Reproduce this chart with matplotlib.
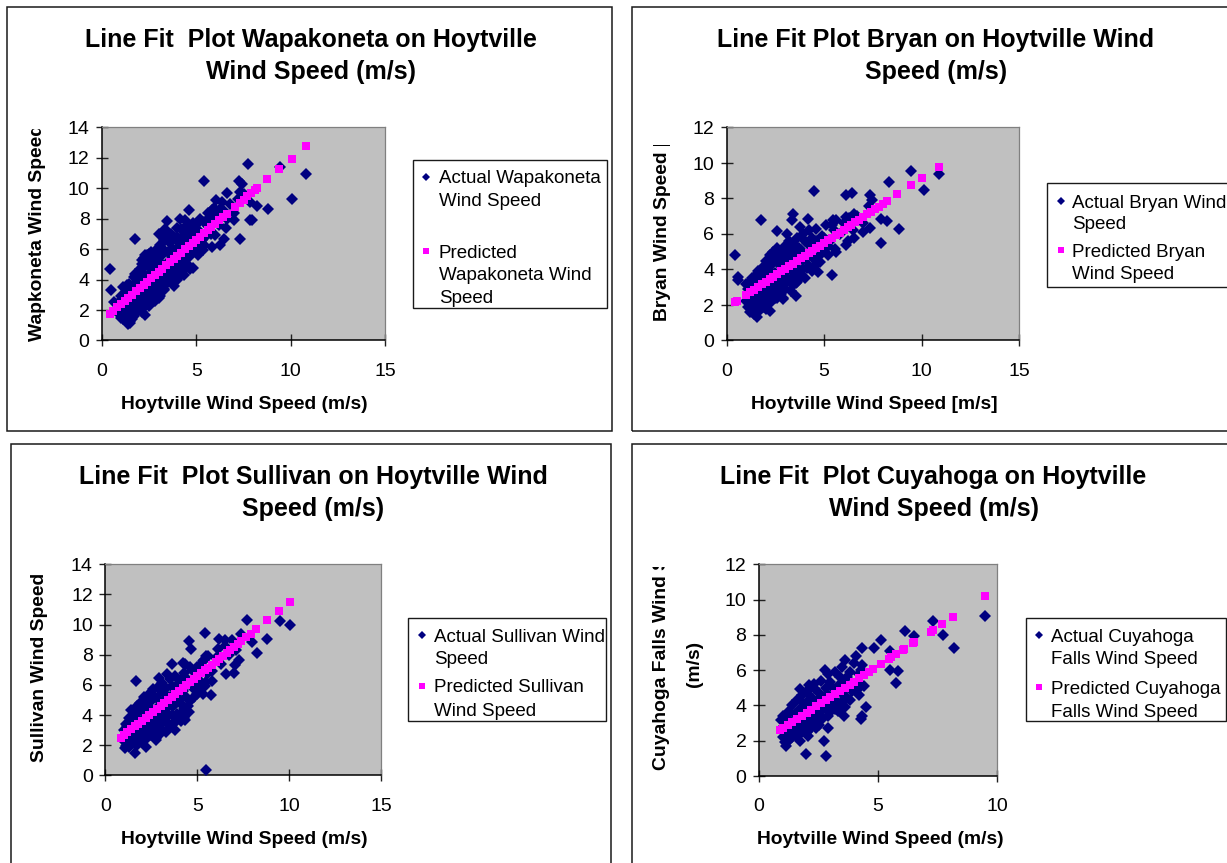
import matplotlib
matplotlib.use('Agg')
import matplotlib.pyplot as plt
from matplotlib.patches import Rectangle
from matplotlib.lines import Line2D
from matplotlib.transforms import Bbox, TransformedBbox

plt.rcParams['font.family'] = ['Liberation Sans', 'DejaVu Sans']

# ---------------- data ----------------
wap_actual = [
    (0.44, 4.72), (0.49, 3.29), (0.65, 2.52), (1.73, 6.69), (2.29, 1.69), (1.50, 1.14),
    (5.42, 10.49), (7.73, 11.59), (7.24, 10.49), (7.41, 10.31), (6.65, 9.70), (7.34, 9.77),
    (9.45, 11.41), (10.09, 9.28), (10.83, 10.97), (6.05, 9.22), (6.38, 9.11), (5.82, 8.56),
    (5.91, 8.73), (6.21, 8.60), (7.87, 9.11), (8.24, 8.82), (8.80, 8.67), (7.85, 7.90),
    (7.97, 7.90), (7.02, 7.94), (6.58, 7.40), (7.29, 6.69), (6.49, 6.69), (6.26, 6.25),
    (5.82, 6.14), (5.33, 5.92), (6.00, 6.91), (4.62, 8.60), (4.14, 8.01), (4.41, 7.90),
    (3.44, 7.83), (3.35, 7.35), (3.67, 6.98), (3.00, 7.02), (4.76, 7.46), (4.94, 7.02),
    (4.81, 4.78), (4.67, 4.67), (4.37, 4.28), (3.35, 6.63), (2.47, 5.71), (2.29, 5.60),
    (2.12, 5.27), (1.99, 4.72), (1.76, 4.39), (1.32, 3.62), (1.41, 3.73), (3.26, 3.29),
    (3.00, 3.07), (3.97, 3.95), (3.70, 4.17), (2.82, 4.17), (4.14, 5.16), (3.88, 4.72),
    (3.17, 4.83),
    (0.8, 1.9), (0.9, 2.5), (0.9, 1.8), (1.0, 2.9), (1.0, 1.5), (1.1, 2.0), (1.1, 3.5),
    (1.2, 1.7), (1.2, 2.4), (1.2, 3.1), (1.3, 1.2), (1.4, 1.1), (1.4, 1.6), (1.4, 2.2),
    (1.5, 3.3), (1.5, 2.0), (1.5, 1.3), (1.6, 2.6), (1.6, 3.6), (1.6, 1.8), (1.7, 2.2),
    (1.7, 4.2), (1.8, 2.8), (1.8, 1.9), (1.8, 3.8), (1.9, 2.4), (1.9, 4.5), (1.9, 3.0),
    (2.0, 2.1), (2.0, 2.7), (2.0, 4.0), (2.1, 5.0), (2.1, 3.2), (2.1, 2.5), (2.2, 2.2),
    (2.2, 4.4), (2.2, 5.4), (2.3, 2.9), (2.3, 3.5), (2.3, 4.9), (2.4, 2.5), (2.4, 3.2),
    (2.4, 5.6), (2.5, 4.3), (2.5, 2.8), (2.5, 5.2), (2.6, 3.3), (2.6, 2.6), (2.6, 4.7),
    (2.7, 3.6), (2.7, 5.0), (2.7, 2.9), (2.8, 3.1), (2.8, 5.5), (2.8, 3.8), (2.9, 4.6),
    (2.9, 3.3), (2.9, 6.0), (3.0, 3.6), (3.0, 5.2), (3.0, 2.8), (3.1, 4.0), (3.1, 6.3),
    (3.1, 3.5), (3.2, 5.6), (3.2, 3.9), (3.3, 4.3), (3.3, 6.6), (3.3, 3.4), (3.4, 5.0),
    (3.4, 7.1), (3.4, 4.0), (3.5, 5.8), (3.5, 4.6), (3.6, 6.4), (3.6, 3.9), (3.7, 4.5),
    (3.7, 5.5), (3.8, 6.8), (3.8, 4.2), (3.9, 6.0), (3.9, 4.9), (4.0, 5.3), (4.0, 7.4),
    (4.0, 4.4), (4.1, 6.5), (4.1, 5.0), (4.2, 5.8), (4.3, 6.9), (4.3, 4.6), (4.4, 5.3),
    (4.4, 6.2), (4.5, 7.6), (4.5, 5.5), (4.6, 6.6), (4.6, 4.9), (4.7, 7.2), (4.8, 5.8),
    (4.9, 6.8), (5.0, 6.0), (5.0, 7.6), (5.1, 6.4), (5.2, 7.1), (5.3, 6.6), (5.4, 7.8),
    (5.5, 6.9), (5.6, 7.5), (5.7, 8.1), (5.8, 7.0), (5.9, 7.9), (6.1, 8.3), (6.2, 7.6),
    (6.4, 8.6), (6.6, 8.0), (6.8, 9.0), (7.0, 8.4), (7.2, 9.3), (7.5, 9.6),
    (1.0, 2.0), (1.1, 1.4), (1.3, 2.5), (1.3, 1.7), (1.5, 2.5), (1.6, 1.4), (1.7, 2.9),
    (1.7, 1.6), (1.8, 3.4), (1.9, 2.0), (2.0, 3.1), (2.1, 4.4), (2.1, 1.9), (2.2, 3.0),
    (2.3, 2.5), (2.4, 4.0), (2.5, 3.6), (2.5, 2.3), (2.6, 5.8), (2.7, 4.3), (2.8, 2.6),
    (2.9, 5.1), (3.0, 4.0), (3.1, 2.9), (3.2, 6.1), (3.3, 4.9), (3.4, 3.7), (3.5, 6.9),
    (3.6, 4.6), (3.7, 6.0), (3.8, 3.6), (3.9, 5.6), (4.0, 6.8), (4.1, 4.2), (4.2, 7.3),
    (4.3, 5.1), (4.4, 7.0), (4.6, 5.5), (4.7, 6.1), (4.8, 7.7), (5.1, 5.6), (5.2, 8.0),
    (5.4, 6.3), (5.6, 8.4),
]
wap_pred = [
    (0.4, 1.75), (0.6, 1.96), (0.8, 2.18), (1.0, 2.39), (1.2, 2.60), (1.4, 2.81),
    (1.6, 3.02), (1.8, 3.23), (2.0, 3.45), (2.2, 3.66), (2.4, 3.87), (2.6, 4.08),
    (2.8, 4.29), (3.0, 4.50), (3.2, 4.72), (3.4, 4.93), (3.6, 5.14), (3.8, 5.35),
    (4.0, 5.56), (4.2, 5.77), (4.4, 5.99), (4.6, 6.20), (4.8, 6.41), (5.0, 6.62),
    (5.2, 6.83), (5.4, 7.04), (5.6, 7.25), (5.8, 7.47), (6.0, 7.68), (6.2, 7.89),
    (6.4, 8.10), (6.6, 8.31), (7.05, 8.79), (7.3, 9.05), (7.5, 9.26), (7.7, 9.48),
    (7.9, 9.69), (8.1, 9.90), (8.24, 10.05), (8.77, 10.61), (9.40, 11.28),
    (10.05, 11.96), (10.83, 12.79),
]

bry_actual = [
    (0.43, 4.80), (0.56, 3.57), (0.60, 3.39), (1.74, 6.81), (2.59, 6.17), (3.38, 7.11),
    (3.33, 6.77), (4.18, 6.83), (3.75, 6.39), (3.07, 6.02), (4.49, 8.41), (6.14, 8.18),
    (6.45, 8.31), (7.34, 8.18), (7.47, 7.94), (8.31, 8.93), (9.47, 9.55), (10.10, 8.46),
    (10.89, 9.40), (5.46, 6.81), (5.63, 6.77), (6.11, 6.96), (6.52, 7.11), (7.94, 6.86),
    (8.23, 6.73), (8.82, 6.30), (7.94, 5.49), (7.00, 6.11), (7.34, 6.36), (6.54, 5.79),
    (6.11, 5.36), (5.55, 5.17), (5.38, 3.67), (4.69, 3.86), (3.58, 2.48), (2.90, 2.31),
    (2.22, 1.69), (1.54, 1.32), (3.07, 3.29), (3.58, 3.24),
    (1.0, 3.2), (1.0, 2.2), (1.1, 1.9), (1.1, 2.9), (1.2, 1.6), (1.2, 2.4), (1.2, 3.3),
    (1.3, 2.0), (1.3, 2.7), (1.4, 1.5), (1.4, 3.6), (1.4, 2.3), (1.5, 1.8), (1.5, 3.0),
    (1.6, 2.1), (1.6, 3.9), (1.6, 2.6), (1.7, 1.7), (1.7, 3.4), (1.8, 2.3), (1.8, 4.1),
    (1.8, 2.9), (1.9, 1.9), (1.9, 3.7), (2.0, 2.5), (2.0, 4.5), (2.0, 3.1), (2.1, 2.1),
    (2.1, 4.0), (2.2, 2.8), (2.2, 4.8), (2.2, 3.5), (2.3, 2.3), (2.3, 4.3), (2.4, 3.0),
    (2.4, 5.0), (2.4, 2.6), (2.5, 3.8), (2.5, 4.6), (2.6, 2.4), (2.6, 3.3), (2.6, 5.2),
    (2.7, 2.9), (2.7, 4.3), (2.8, 3.6), (2.8, 5.0), (2.8, 2.6), (2.9, 4.6), (2.9, 3.1),
    (3.0, 5.3), (3.0, 2.9), (3.0, 3.8), (3.1, 4.4), (3.1, 5.0), (3.2, 3.4), (3.2, 5.6),
    (3.3, 4.0), (3.3, 2.8), (3.4, 4.8), (3.4, 3.6), (3.5, 5.4), (3.5, 4.2), (3.6, 3.3),
    (3.6, 5.8), (3.7, 4.5), (3.7, 3.8), (3.8, 5.1), (3.9, 4.0), (3.9, 6.0), (4.0, 4.6),
    (4.0, 3.5), (4.1, 5.5), (4.2, 4.2), (4.2, 6.2), (4.3, 5.0), (4.4, 3.9), (4.4, 5.8),
    (4.5, 4.6), (4.6, 6.3), (4.7, 5.3), (4.8, 4.4), (4.9, 5.9), (5.0, 5.1), (5.1, 6.5),
    (5.2, 4.8), (5.3, 5.6), (5.5, 6.2), (5.6, 5.0), (5.8, 6.0), (6.0, 6.6), (6.2, 5.6),
    (6.3, 6.9), (6.5, 6.2), (6.7, 7.0), (7.0, 6.6), (7.3, 7.6),
    (1.1, 2.4), (1.2, 2.0), (1.3, 3.5), (1.4, 2.9), (1.5, 2.3), (1.6, 3.4), (1.7, 2.0),
    (1.8, 3.6), (1.9, 2.6), (2.0, 4.0), (2.0, 1.8), (2.1, 3.4), (2.2, 2.1), (2.3, 3.7),
    (2.4, 4.4), (2.5, 2.4), (2.5, 3.2), (2.6, 4.6), (2.7, 3.7), (2.8, 4.2), (2.9, 2.4),
    (3.0, 4.8), (3.1, 3.5), (3.2, 4.5), (3.3, 5.1), (3.4, 3.1), (3.5, 4.9), (3.6, 4.0),
    (3.7, 5.2), (3.8, 3.6), (3.9, 4.6), (4.0, 5.6), (4.1, 4.1), (4.3, 5.4), (4.5, 4.2),
    (4.6, 5.6), (4.8, 4.8), (5.0, 5.8), (5.2, 5.3), (5.4, 6.5),
]
bry_pred = [
    (0.43, 2.16), (0.55, 2.25), (1.0, 2.58), (1.2, 2.73), (1.4, 2.87), (1.6, 3.02),
    (1.8, 3.16), (2.0, 3.31), (2.2, 3.46), (2.4, 3.60), (2.6, 3.75), (2.8, 3.89),
    (3.0, 4.04), (3.2, 4.19), (3.4, 4.33), (3.6, 4.48), (3.8, 4.62), (4.0, 4.77),
    (4.2, 4.92), (4.4, 5.06), (4.6, 5.21), (4.8, 5.35), (5.0, 5.50), (5.2, 5.65),
    (5.4, 5.79), (5.6, 5.94), (5.8, 6.08), (6.0, 6.23), (6.2, 6.38), (6.4, 6.52),
    (6.6, 6.67), (6.8, 6.81), (7.0, 6.96), (7.2, 7.11), (7.4, 7.25), (7.6, 7.40),
    (7.8, 7.54), (8.0, 7.69), (8.25, 7.87), (8.75, 8.24), (9.44, 8.74), (10.03, 9.17),
    (10.87, 9.78),
]

sul_actual = [
    (1.68, 6.26), (5.49, 0.38), (5.43, 9.45), (4.53, 8.92), (4.64, 8.36), (7.72, 10.29),
    (6.16, 9.03), (6.49, 9.00), (7.36, 9.36), (7.97, 8.85), (8.26, 8.12), (8.80, 9.07),
    (9.47, 10.24), (10.05, 10.00), (6.54, 6.75), (6.99, 6.79), (7.03, 7.35), (7.26, 7.68),
    (5.45, 7.90), (5.36, 7.68), (3.62, 7.37), (4.22, 7.46), (4.35, 7.37), (5.76, 5.31),
    (5.80, 6.26), (5.31, 5.42), (5.13, 5.64), (5.49, 6.19), (4.53, 4.20), (4.35, 3.65),
    (4.28, 3.81), (3.80, 3.03), (3.32, 4.49), (1.59, 1.48), (2.19, 1.88), (1.14, 1.92),
    (1.05, 1.81), (2.77, 2.50), (2.77, 2.37), (2.92, 6.46), (3.37, 6.70), (2.90, 5.91),
    (1.0, 3.0), (1.1, 2.3), (1.1, 3.4), (1.2, 2.0), (1.2, 2.7), (1.3, 3.8), (1.3, 2.2),
    (1.4, 2.9), (1.4, 4.3), (1.5, 2.4), (1.5, 3.5), (1.6, 4.0), (1.6, 2.1), (1.7, 3.1),
    (1.7, 4.6), (1.8, 2.6), (1.8, 3.7), (1.9, 4.8), (1.9, 2.3), (2.0, 3.2), (2.0, 4.3),
    (2.1, 2.8), (2.1, 5.2), (2.2, 3.6), (2.2, 2.4), (2.3, 4.6), (2.3, 3.0), (2.4, 5.4),
    (2.4, 3.9), (2.5, 2.7), (2.5, 4.9), (2.6, 3.4), (2.6, 5.7), (2.7, 4.2), (2.7, 3.0),
    (2.8, 5.1), (2.8, 3.7), (2.9, 4.6), (2.9, 2.7), (3.0, 5.6), (3.0, 3.4), (3.1, 4.2),
    (3.1, 6.1), (3.2, 3.8), (3.2, 5.0), (3.3, 2.9), (3.3, 5.8), (3.4, 4.5), (3.4, 3.5),
    (3.5, 6.4), (3.5, 5.2), (3.6, 4.0), (3.7, 5.8), (3.7, 3.4), (3.8, 4.7), (3.8, 6.6),
    (3.9, 5.4), (3.9, 4.1), (4.0, 6.1), (4.1, 4.7), (4.1, 3.6), (4.2, 5.6), (4.3, 6.8),
    (4.3, 4.4), (4.4, 5.2), (4.5, 6.3), (4.6, 4.9), (4.7, 7.0), (4.8, 5.7), (4.9, 6.5),
    (5.0, 7.2), (5.0, 5.4), (5.2, 6.2), (5.3, 7.6), (5.5, 6.7), (5.6, 7.9), (5.8, 6.9),
    (6.0, 7.8), (6.1, 8.4), (6.3, 7.4), (6.5, 8.6), (6.7, 8.0), (6.9, 9.0), (7.1, 8.3),
    (1.0, 2.3), (1.1, 2.8), (1.2, 3.3), (1.3, 1.9), (1.4, 2.5), (1.5, 3.9), (1.6, 2.7),
    (1.7, 2.0), (1.8, 4.2), (1.9, 3.0), (2.0, 2.2), (2.1, 3.8), (2.2, 4.8), (2.3, 2.6),
    (2.4, 3.4), (2.5, 4.3), (2.6, 2.9), (2.7, 5.2), (2.8, 4.0), (2.9, 3.2), (3.0, 6.0),
    (3.1, 3.0), (3.2, 4.4), (3.3, 5.3), (3.4, 4.0), (3.5, 3.2), (3.6, 5.9), (3.7, 4.6),
    (3.8, 5.2), (3.9, 3.7), (4.0, 5.0), (4.1, 6.4), (4.2, 4.2), (4.4, 6.0), (4.5, 4.6),
    (4.6, 7.2), (4.8, 5.2), (5.0, 6.2), (5.2, 7.3), (5.4, 5.9),
]
sul_pred = [
    (0.83, 2.48), (1.0, 2.65), (1.2, 2.84), (1.4, 3.04), (1.6, 3.24), (1.8, 3.43),
    (2.0, 3.63), (2.2, 3.82), (2.4, 4.02), (2.6, 4.22), (2.8, 4.41), (3.0, 4.61),
    (3.2, 4.80), (3.4, 5.00), (3.6, 5.19), (3.8, 5.39), (4.0, 5.59), (4.2, 5.78),
    (4.4, 5.98), (4.6, 6.17), (4.8, 6.37), (5.0, 6.57), (5.2, 6.76), (5.4, 6.96),
    (5.6, 7.15), (5.8, 7.35), (6.0, 7.54), (6.2, 7.74), (6.4, 7.94), (6.6, 8.13),
    (6.8, 8.33), (7.0, 8.52), (7.2, 8.72), (7.4, 8.91), (7.65, 9.16), (7.9, 9.40),
    (8.21, 9.71), (8.80, 10.29), (9.44, 10.91), (10.04, 11.50),
]

cuy_actual = [
    (0.92, 3.16), (1.15, 1.68), (1.97, 1.23), (2.80, 1.13), (2.72, 1.98), (2.06, 2.27),
    (1.71, 1.98), (1.71, 4.95), (2.10, 5.14), (2.31, 5.24), (2.76, 6.03), (3.60, 6.60),
    (4.06, 6.79), (4.33, 7.28), (4.33, 6.28), (4.83, 7.26), (5.14, 7.69), (5.49, 7.09),
    (5.49, 5.99), (5.84, 5.95), (5.77, 5.29), (6.12, 8.22), (6.51, 7.92), (7.32, 8.77),
    (7.73, 8.01), (8.19, 7.28), (9.48, 9.07), (4.51, 3.91), (4.33, 3.38), (4.30, 3.25),
    (3.57, 3.38), (3.18, 4.57), (3.99, 4.95), (4.27, 5.09), (3.07, 3.95), (2.90, 2.74),
    (3.60, 3.90),
    (1.0, 2.2), (1.0, 3.4), (1.1, 1.9), (1.1, 2.8), (1.2, 3.6), (1.2, 2.4), (1.3, 2.1),
    (1.3, 3.1), (1.4, 4.0), (1.4, 2.6), (1.5, 2.3), (1.5, 3.5), (1.6, 4.3), (1.6, 2.9),
    (1.7, 2.5), (1.7, 3.8), (1.8, 4.6), (1.8, 3.2), (1.9, 2.7), (1.9, 4.1), (2.0, 3.5),
    (2.0, 4.8), (2.0, 2.5), (2.1, 3.9), (2.1, 3.0), (2.2, 4.5), (2.2, 2.8), (2.3, 3.6),
    (2.3, 5.0), (2.4, 4.2), (2.4, 3.2), (2.5, 4.7), (2.5, 2.9), (2.6, 3.8), (2.6, 5.4),
    (2.7, 4.4), (2.7, 3.3), (2.8, 5.0), (2.8, 3.9), (2.9, 5.8), (2.9, 4.6), (3.0, 3.6),
    (3.0, 5.3), (3.1, 4.3), (3.2, 5.9), (3.2, 3.8), (3.3, 4.9), (3.4, 5.6), (3.4, 4.1),
    (3.5, 6.2), (3.5, 4.7), (3.6, 5.3), (3.7, 4.4), (3.8, 5.9), (3.9, 4.8), (4.0, 6.4),
    (4.1, 5.3), (4.2, 4.6), (4.3, 6.0), (4.4, 5.1),
    (1.0, 2.8), (1.1, 3.3), (1.2, 2.0), (1.3, 3.6), (1.4, 2.2), (1.5, 2.9), (1.6, 3.6),
    (1.7, 3.1), (1.8, 2.5), (1.9, 3.6), (2.0, 4.2), (2.1, 2.6), (2.2, 3.3), (2.3, 4.2),
    (2.4, 2.7), (2.5, 3.5), (2.6, 4.5), (2.7, 3.8), (2.8, 4.6), (2.9, 3.4), (3.0, 4.2),
    (3.1, 5.0), (3.2, 4.3), (3.3, 3.7), (3.4, 5.2), (3.6, 4.4), (3.7, 5.6), (3.8, 4.3),
    (4.0, 5.0), (4.2, 5.8),
]
cuy_pred = [
    (0.87, 2.59), (1.0, 2.70), (1.2, 2.88), (1.4, 3.06), (1.6, 3.23), (1.8, 3.41),
    (2.0, 3.59), (2.2, 3.76), (2.4, 3.94), (2.6, 4.12), (2.8, 4.29), (3.0, 4.47),
    (3.2, 4.65), (3.4, 4.82), (3.6, 5.00), (3.8, 5.18), (4.0, 5.35), (4.2, 5.53),
    (4.4, 5.71), (4.6, 5.88), (4.79, 6.05), (5.11, 6.33), (5.46, 6.64), (5.55, 6.72),
    (5.77, 6.92), (6.05, 7.16), (6.10, 7.21), (6.45, 7.52), (6.52, 7.58), (7.20, 8.18),
    (7.30, 8.27), (7.70, 8.62), (8.16, 9.03), (9.48, 10.19),
]

titles = [
    ("Line Fit  Plot Wapakoneta on Hoytville", "Wind Speed (m/s)"),
    ("Line Fit Plot Bryan on Hoytville Wind", "Speed (m/s)"),
    ("Line Fit  Plot Sullivan on Hoytville Wind", "Speed (m/s)"),
    ("Line Fit  Plot Cuyahoga on Hoytville", "Wind Speed (m/s)"),
]
xlabels = ["Hoytville Wind Speed (m/s)", "Hoytville Wind Speed [m/s]",
           "Hoytville Wind Speed (m/s)", "Hoytville Wind Speed (m/s)"]
ylabels = ["Wapkoneta Wind Speed", "Bryan Wind Speed [m/s]",
           "Sullivan Wind Speed", "Cuyahoga Falls Wind Speed"]
legend_labels = [
    (["Actual Wapakoneta", "Wind Speed"], ["Predicted", "Wapakoneta Wind", "Speed"]),
    (["Actual Bryan Wind", "Speed"], ["Predicted Bryan", "Wind Speed"]),
    (["Actual Sullivan Wind", "Speed"], ["Predicted Sullivan", "Wind Speed"]),
    (["Actual Cuyahoga", "Falls Wind Speed"], ["Predicted Cuyahoga", "Falls Wind Speed"]),
]
x_ticks = [[0, 5, 10, 15], [0, 5, 10, 15], [0, 5, 10, 15], [0, 5, 10]]
y_ticks = [list(range(0, 15, 2)), list(range(0, 13, 2)),
           list(range(0, 15, 2)), list(range(0, 13, 2))]
actual_sets = [wap_actual, bry_actual, sul_actual, cuy_actual]
pred_sets = [wap_pred, bry_pred, sul_pred, cuy_pred]

# ---------------- layout (pixels of the 1227x863 picture) ----------------
W, H = 1227, 863
fig = plt.figure(figsize=(W / 100, H / 100), dpi=100)
fig.patch.set_facecolor('white')


def fx(px):
    return px / W


def fy(py):
    return 1 - py / H


layout = [
    dict(frame=(7, 7, 612, 431), axes=(102, 127.5, 385, 340.5),
         tcx=311, tb=(46.8, 78.6), xl=(244.7, 408.6),
         yl=(37.5, 341, 129), leg_box=(413, 160, 606.7, 308.4),
         leg_mx=425.7, leg_tx=438.7, leg_lines=([176.6, 199.0], [250.8, 273.4, 296.0])),
    dict(frame=(632, 7, 1240, 431), axes=(726.7, 127.5, 1019, 340.5),
         tcx=936, tb=(46.8, 78.6), xl=(874.8, 408.6),
         yl=(662.6, 321, 145), leg_box=(1046.7, 183.3, 1240, 286.7),
         leg_mx=1060.7, leg_tx=1072.5, leg_lines=([200.7, 222.0], [250.0, 272.3])),
    dict(frame=(10.7, 444.3, 611, 880), axes=(105.3, 564.3, 381.3, 775.3),
         tcx=313, tb=(484.0, 516.0), xl=(244.0, 844.0),
         yl=(39.5, 761.7, None), leg_box=(408.3, 618.3, 606, 721),
         leg_mx=422, leg_tx=434, leg_lines=([635.0, 656.7], [685.7, 709.0])),
    dict(frame=(632, 444.3, 1240, 880), axes=(759, 564.3, 997.3, 776),
         tcx=933.6, tb=(484.0, 516.0), xl=(880.3, 844.0),
         yl=(661, 770, 567), leg_box=(1025.8, 617.7, 1226.3, 721),
         leg_mx=1038.6, leg_tx=1051, leg_lines=([635.0, 657.3], [686.7, 710.0])),
]

NAVY = '#000080'
MAGENTA = '#FF00FF'
TITLE_FS = 18
TICK_FS = 14
LABEL_FS = 13.9
LEG_FS = 13.5

for i, L in enumerate(layout):
    # outer chart frame
    x0, y0, x1, y1 = L['frame']
    fig.add_artist(Rectangle((fx(x0), fy(y1)), fx(x1) - fx(x0), (y1 - y0) / H,
                             transform=fig.transFigure, fill=False,
                             edgecolor='#1a1a1a', linewidth=1.1))

    # plot area
    a0, b0, a1, b1 = L['axes']
    ax = fig.add_axes([fx(a0), fy(b1), fx(a1) - fx(a0), (b1 - b0) / H])
    ax.set_facecolor('#C0C0C0')
    ax.set_xlim(x_ticks[i][0], x_ticks[i][-1])
    ax.set_ylim(y_ticks[i][0], y_ticks[i][-1])
    ax.set_xticks(x_ticks[i])
    ax.set_yticks(y_ticks[i])
    for s in ('top', 'right'):
        ax.spines[s].set_color('#808080')
        ax.spines[s].set_linewidth(0.9)
    for s in ('left', 'bottom'):
        ax.spines[s].set_color('black')
        ax.spines[s].set_linewidth(1.1)
    ax.tick_params(direction='inout', length=9, width=1.0, color='#202020',
                   labelsize=TICK_FS, labelcolor='black')
    ax.tick_params(axis='x', pad=11.5)
    ax.tick_params(axis='y', pad=4.5)

    ax_x = [p[0] for p in actual_sets[i]]
    ax_y = [p[1] for p in actual_sets[i]]
    pr_x = [p[0] for p in pred_sets[i]]
    pr_y = [p[1] for p in pred_sets[i]]
    ax.plot(ax_x, ax_y, linestyle='none', marker='D', markersize=6.4,
            markerfacecolor=NAVY, markeredgewidth=0, zorder=3, clip_on=False)
    ax.plot(pr_x, pr_y, linestyle='none', marker='s', markersize=6.2,
            markerfacecolor=MAGENTA, markeredgewidth=0, zorder=4, clip_on=False)

    # title (two centred lines)
    for line, base in zip(titles[i], L['tb']):
        fig.text(fx(L['tcx']), fy(base), line, ha='center', va='baseline',
                 fontsize=TITLE_FS, fontweight='bold', color='black')

    # x label
    fig.text(fx(L['xl'][0]), fy(L['xl'][1]), xlabels[i], ha='center',
             va='baseline', fontsize=LABEL_FS, fontweight='bold')

    # y label (clipped like the original)
    yx, ybot, yclip = L['yl']
    t = fig.text(fx(yx), fy(ybot), ylabels[i], rotation=90, ha='center',
                 va='bottom', fontsize=LABEL_FS, fontweight='bold')
    if yclip is not None:
        t.set_clip_box(TransformedBbox(Bbox([[0, 0], [1, fy(yclip)]]),
                                       fig.transFigure))
        t.set_clip_on(True)
    if i == 3:
        fig.text(fx(694), fy(663.5), "(m/s)", rotation=90, ha='center',
                 va='center', fontsize=LABEL_FS, fontweight='bold')

    # legend
    l0, m0, l1, m1 = L['leg_box']
    fig.add_artist(Rectangle((fx(l0), fy(m1)), fx(l1) - fx(l0), (m1 - m0) / H,
                             transform=fig.transFigure, facecolor='white',
                             edgecolor='#1a1a1a', linewidth=1.0))
    for k, (lines, ys) in enumerate(zip(legend_labels[i], L['leg_lines'])):
        if k == 0:
            fig.add_artist(Line2D([fx(L['leg_mx'])], [fy(ys[0])],
                                  transform=fig.transFigure, marker='D',
                                  markersize=4.2, markerfacecolor=NAVY,
                                  markeredgewidth=0, linestyle='none'))
        else:
            fig.add_artist(Line2D([fx(L['leg_mx'])], [fy(ys[0])],
                                  transform=fig.transFigure, marker='s',
                                  markersize=4.6, markerfacecolor=MAGENTA,
                                  markeredgewidth=0, linestyle='none'))
        for txt, yc in zip(lines, ys):
            fig.text(fx(L['leg_tx']), fy(yc + 6.8), txt, ha='left',
                     va='baseline', fontsize=LEG_FS, color='black')

fig.savefig('out.png', dpi=100)
